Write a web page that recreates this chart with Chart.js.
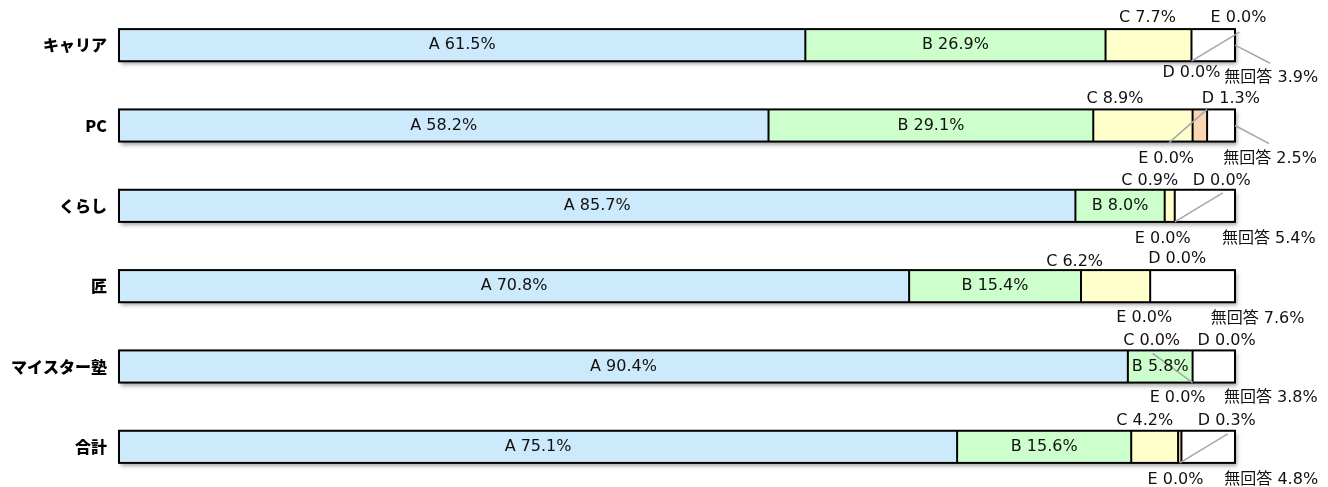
<!DOCTYPE html>
<html>
<head>
<meta charset="utf-8">
<script src="https://cdn.jsdelivr.net/npm/chart.js@4"></script>
<style>
  html, body { margin: 0; padding: 0; background: #fff; }
  #wrap { width: 1328px; height: 487px; }
</style>
</head>
<body>
<div id="wrap"><canvas id="chart"></canvas></div>
<script>
// data
var categories = ["キャリア", "PC", "くらし", "匠", "マイスター塾", "合計"];
var seriesNames = ["A", "B", "C", "D", "E", "無回答"];
var valuesA = [61.5, 58.2, 85.7, 70.8, 90.4, 75.1];
var valuesB = [26.9, 29.1, 8.0, 15.4, 5.8, 15.6];
var valuesC = [7.7, 8.9, 0.9, 6.2, 0.0, 4.2];
var valuesD = [0.0, 1.3, 0.0, 0.0, 0.0, 0.3];
var valuesE = [0.0, 0.0, 0.0, 0.0, 0.0, 0.0];
var valuesNoAnswer = [3.9, 2.5, 5.4, 7.6, 3.8, 4.8];

var colors = ["#CCEAFB", "#CCFFCC", "#FFFFCC", "#FCD5B5", "#E4DFEC", "#FFFFFF"];

// where the small labels go outside the bar:
// [side, dx from segment centre, dy from bar edge, leader type]
var outsideLabels = {
    2: [["top", -1, -11, ""], ["top", -28, -11, ""], ["top", -20, -9, ""], ["top", -41, -8, ""], ["top", -41, -10, "across"], ["top", -10, -10, ""]],
    3: [["bottom", 0, 12, ""], ["top", 31, -11, ""], ["top", 47, -9, "across"], ["top", 27, -11, ""], ["top", 34, -10, ""], ["top", 47, -10, "across"]],
    4: [["top", 47, -11, "across"], ["bottom", -41, 17, "across"], ["bottom", -12, 17, ""], ["bottom", -6, 16, ""], ["bottom", -15, 15, ""], ["bottom", -6, 17, ""]],
    5: [["bottom", 58, 17, "side"], ["bottom", 49, 17, "side"], ["bottom", 64, 17, ""], ["bottom", 65, 17, ""], ["bottom", 57, 15, ""], ["bottom", 63, 17, ""]]
};

var allValues = [valuesA, valuesB, valuesC, valuesD, valuesE, valuesNoAnswer];

var datasets = allValues.map(function (vals, k) {
    return {
        label: seriesNames[k],
        data: vals,
        backgroundColor: colors[k],
        borderWidth: 0,
        barPercentage: 0.4,
        categoryPercentage: 1
    };
});

var labelFont = "16px 'DejaVu Sans', 'Noto Sans CJK JP', sans-serif";

var barDecor = {
    id: "barDecor",
    beforeDatasetsDraw: function (chart) {
        // soft shadow under each whole bar
        var ctx = chart.ctx;
        var first = chart.getDatasetMeta(0);
        var last = chart.getDatasetMeta(allValues.length - 1);
        ctx.save();
        ctx.shadowColor = "rgba(0,0,0,0.35)";
        ctx.shadowBlur = 4;
        ctx.shadowOffsetX = 2;
        ctx.shadowOffsetY = 3;
        ctx.fillStyle = "#fff";
        first.data.forEach(function (bar, i) {
            var end = last.data[i];
            ctx.fillRect(bar.base, bar.y - bar.height / 2, end.x - bar.base, bar.height);
        });
        ctx.restore();
    },
    afterDatasetsDraw: function (chart) {
        var ctx = chart.ctx;
        var first = chart.getDatasetMeta(0);
        var last = chart.getDatasetMeta(allValues.length - 1);
        var texts = [];

        ctx.save();
        ctx.strokeStyle = "#000";
        ctx.lineWidth = 2;
        // dividers between segments
        allValues.forEach(function (vals, k) {
            if (k === allValues.length - 1) return;
            chart.getDatasetMeta(k).data.forEach(function (bar, i) {
                if (vals[i] <= 0) return;
                var top = bar.y - bar.height / 2;
                ctx.beginPath();
                ctx.moveTo(bar.x, top);
                ctx.lineTo(bar.x, top + bar.height);
                ctx.stroke();
            });
        });
        // outline of whole bar
        first.data.forEach(function (bar, i) {
            var end = last.data[i];
            ctx.strokeRect(bar.base, bar.y - bar.height / 2, end.x - bar.base, bar.height);
        });

        ctx.strokeStyle = "#A6A6A6";
        ctx.lineWidth = 1.5;
        allValues.forEach(function (vals, k) {
            var meta = chart.getDatasetMeta(k);
            meta.data.forEach(function (bar, i) {
                var txt = seriesNames[k] + " " + vals[i].toFixed(1) + "%";
                var xc = (bar.base + bar.x) / 2;
                var top = bar.y - bar.height / 2;
                var bottom = bar.y + bar.height / 2;
                if (k < 2) {
                    texts.push([txt, xc, bar.y]);
                    return;
                }
                var p = outsideLabels[k][i];
                var lx = xc + p[1];
                var ly = p[0] === "top" ? top + p[2] : bottom + p[2];
                texts.push([txt, lx, ly]);
                if (p[3] === "across") {
                    ctx.beginPath();
                    if (p[0] === "top") {
                        ctx.moveTo(xc, bottom);
                        ctx.lineTo(lx + 1, top + 3);
                    } else {
                        ctx.moveTo(xc, top);
                        ctx.lineTo(lx + 3, bottom + 1);
                    }
                    ctx.stroke();
                } else if (p[3] === "side") {
                    var endX = last.data[i].x;
                    ctx.beginPath();
                    ctx.moveTo(endX, bar.y);
                    ctx.lineTo(lx - 1, bottom + 2);
                    ctx.stroke();
                }
            });
        });

        ctx.fillStyle = "#111";
        ctx.font = labelFont;
        ctx.textAlign = "center";
        ctx.textBaseline = "middle";
        texts.forEach(function (t) {
            ctx.fillText(t[0], t[1], t[2]);
        });
        ctx.restore();
    }
};

var chart = new Chart(document.getElementById("chart"), {
    type: "bar",
    data: {
        labels: categories,
        datasets: datasets
    },
    options: {
        indexAxis: "y",
        responsive: true,
        maintainAspectRatio: false,
        animation: false,
        layout: { padding: { top: 5, right: 93, bottom: 0, left: 0 } },
        plugins: {
            legend: { display: false },
            tooltip: { enabled: false }
        },
        scales: {
            x: { stacked: true, min: 0, max: 100, display: false },
            y: {
                stacked: true,
                grid: { display: false, drawTicks: false },
                border: { display: false },
                ticks: {
                    color: "#000",
                    padding: 12,
                    font: { family: "'Noto Sans CJK JP', sans-serif", size: 16, weight: 900 }
                },
                afterFit: function (scale) {
                    scale.width = 119;
                    scale.paddingTop = 0;
                    scale.paddingBottom = 0;
                }
            }
        }
    },
    plugins: [barDecor]
});
</script>
</body>
</html>
